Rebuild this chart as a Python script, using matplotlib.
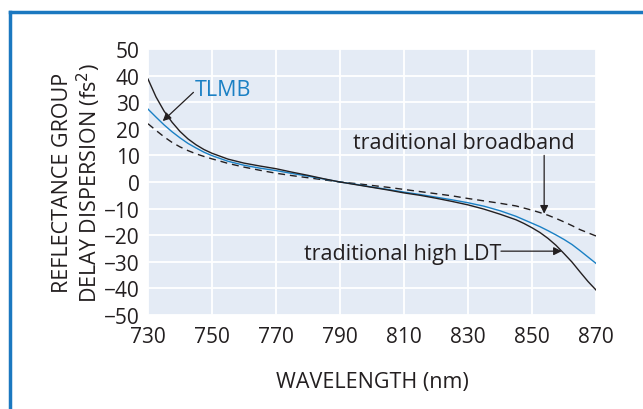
import matplotlib
matplotlib.use("Agg")
from matplotlib import pyplot as plt
from matplotlib.lines import Line2D

# wavelength samples (nm); denser where the curves bend
wavelength = [730, 732.5, 735, 737.5, 740, 742.5, 745, 747.5, 750, 755, 760, 765,
              770, 775, 780, 785, 790, 795, 800, 805, 810, 815, 820, 825, 830,
              835, 840, 845, 847.5, 850, 852.5, 855, 857.5, 860, 862.5, 865,
              867.5, 870]

high_ldt = [38.7, 32.0, 26.7, 22.5, 19.0, 16.2, 14.0, 12.2, 10.8, 8.6, 7.1, 6.0,
            5.0, 3.7, 2.5, 1.2, 0.0, -1.0, -2.0, -3.0, -4.1, -5.0, -6.1, -7.3,
            -8.6, -10.2, -12.1, -14.2, -15.6, -17.2, -19.0, -21.2, -23.8, -26.9,
            -30.1, -33.8, -37.4, -40.6]

tlmb = [27.4, 24.4, 21.5, 18.9, 16.6, 14.5, 12.8, 11.2, 9.9, 7.8, 6.3, 5.2,
        4.3, 3.2, 2.2, 1.1, 0.0, -0.9, -1.9, -2.8, -3.8, -4.7, -5.7, -6.7,
        -7.8, -9.1, -10.8, -12.9, -14.2, -15.5, -16.8, -18.3, -19.9, -21.6,
        -23.5, -25.8, -28.2, -30.6]

broadband = [21.9, 19.4, 17.0, 14.9, 13.2, 11.8, 10.6, 9.6, 8.7, 7.0, 5.6, 4.4,
             3.3, 2.4, 1.6, 0.8, 0.0, -0.6, -1.3, -2.0, -2.8, -3.6, -4.4, -5.2,
             -6.2, -7.1, -8.0, -9.0, -9.8, -10.6, -11.5, -12.5, -13.7, -15.0,
             -16.4, -17.9, -19.1, -20.3]

x_ticks = [730, 750, 770, 790, 810, 830, 850, 870]
y_ticks = [50, 40, 30, 20, 10, 0, -10, -20, -30, -40, -50]

DARK = '#231f20'
BLUE = '#1a80c4'

plt.rcParams['font.family'] = ['Open Sans', 'DejaVu Sans']

fig = plt.figure(figsize=(6.43, 4.10), dpi=100)
ax = fig.add_axes([148 / 643, 1 - 316 / 410, 448 / 643, 266 / 410])
ax.set_facecolor('#e4ebf5')

ax.plot(wavelength, broadband, color=DARK, lw=1.0, dashes=(5, 3.5))
ax.plot(wavelength, tlmb, color=BLUE, lw=1.0)
ax.plot(wavelength, high_ldt, color=DARK, lw=1.0)

ax.set_xlim(730, 870)
ax.set_ylim(-50, 50)
ax.set_xticks(x_ticks)
ax.set_yticks(y_ticks)
ax.grid(True, color='white', lw=1.3)
ax.set_axisbelow(True)
for s in ax.spines.values():
    s.set_visible(False)
ax.tick_params(length=0, labelsize=15, colors=DARK)
ax.tick_params(axis='x', pad=8)
ax.tick_params(axis='y', pad=6)

ax.set_xlabel('WAVELENGTH (nm)', fontsize=15.5, color=DARK, labelpad=17)
ax.set_ylabel('REFLECTANCE GROUP\nDELAY DISPERSION (fs$^2$)', fontsize=15.5,
              color=DARK, labelpad=1, linespacing=1.05)

arrow = dict(arrowstyle='-|>', color=DARK, lw=0.9, mutation_scale=12,
             shrinkA=0, shrinkB=0)

ax.text(744.7, 32.7, 'TLMB', color=BLUE, fontsize=15.5, ha='left', va='baseline')
ax.annotate('', xy=(734.6, 22.9), xytext=(744.2, 33.7), arrowprops=arrow)

ax.text(828.6, 12.75, 'traditional broadband', color=DARK, fontsize=15.5,
        ha='center', va='baseline')
ax.annotate('', xy=(853.8, -11.9), xytext=(853.8, 10.0), arrowprops=arrow)

ax.text(840.3, -29.0, 'traditional high LDT', color=DARK, fontsize=15.5,
        ha='right', va='baseline')
ax.annotate('', xy=(859.3, -26.0), xytext=(840.3, -26.0), arrowprops=arrow)

# blue frame around the figure (only left and top edges visible)
fig.add_artist(Line2D([10 / 643, 10 / 643], [0, 1 - 12.5 / 410],
                      transform=fig.transFigure, color='#1b78c0', lw=2.5))
fig.add_artist(Line2D([10 / 643, 1], [1 - 12.5 / 410, 1 - 12.5 / 410],
                      transform=fig.transFigure, color='#1b78c0', lw=2.5))

fig.savefig('out.png', dpi=100)
